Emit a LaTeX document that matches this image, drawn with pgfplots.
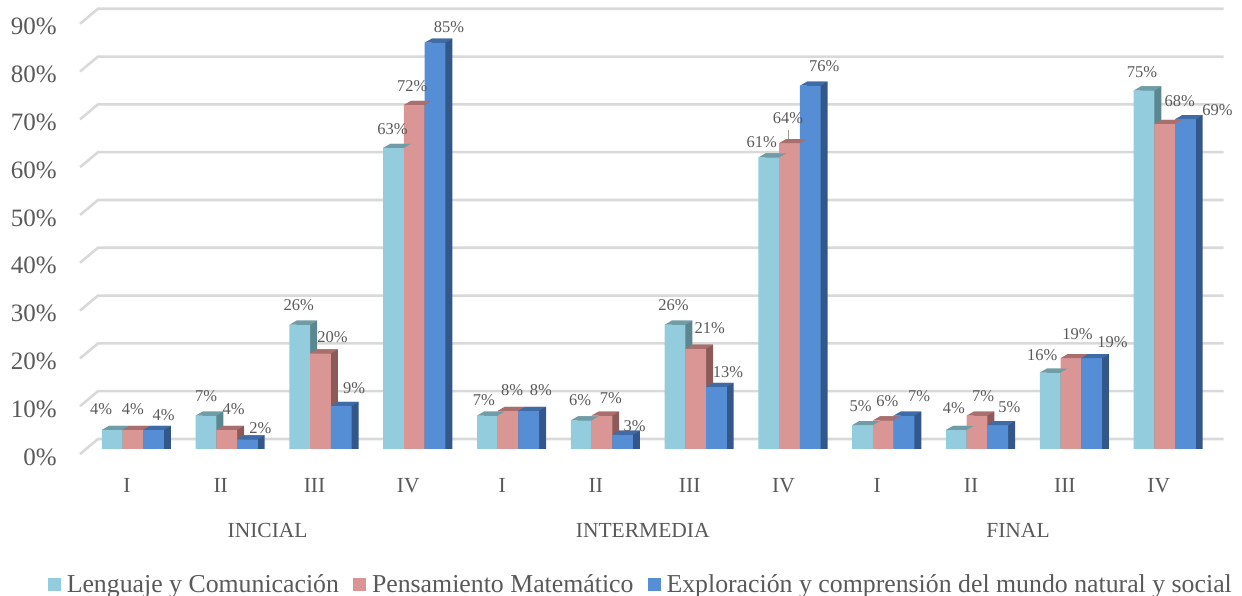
\documentclass[border=0pt]{standalone}
\usepackage{pgfplots}
\pgfplotsset{compat=1.18}
\usepackage{pgfplotstable}
\usepackage{fontspec}
\setmainfont{Liberation Serif}
\definecolor{txt}{HTML}{595959}
\definecolor{fa}{HTML}{93CDDD}\definecolor{ta}{HTML}{6F9CA6}\definecolor{sa}{HTML}{5B8790}
\definecolor{fb}{HTML}{D99694}\definecolor{tb}{HTML}{A86F6D}\definecolor{sb}{HTML}{8B5B59}
\definecolor{fc}{HTML}{558ED5}\definecolor{tc}{HTML}{3F6BA6}\definecolor{sc}{HTML}{33578A}
\definecolor{gridc}{HTML}{D9D9D9}

\pgfdeclareplotmark{top3d}{%
  \pgfpathmoveto{\pgfqpoint{-10.35pt}{0pt}}%
  \pgfpathlineto{\pgfqpoint{10.35pt}{0pt}}%
  \pgfpathlineto{\pgfqpoint{17.35pt}{4pt}}%
  \pgfpathlineto{\pgfqpoint{-3.35pt}{4pt}}%
  \pgfpathclose\pgfusepathqfill}

\pgfplotstableread{
x  a  b  c  dxa  dya  dxb  dyb  dxc  dyc
0  4  4  4  -11  15   0    15   10   9
1  7  4  2  0    14.5 7    15   13   6
2  26 20 9  -1   14   12   11   13   12
3  63 72 85 -1   13   -2   13   14   10
4  7  8  8  -3.5 10.5 4    15   12   15
5  6  7  3  -1   15   9    12.5 12   3
6  26 21 13 -1.5 14   14   15.5 11.5 9
7  61 64 76 -7   10   -1.5 20   14   14
8  5  6  7  -2   14   4    14   15   14.5
9  4  7  5  -2.5 16   6    14.5 11.5 13
10 16 19 19 -8   12.5 6.5  19   21   11
11 75 68 69 -2   12.5 15   17   32   4
}\data

\pgfplotsset{
  lbl/.style n args={3}{draw=none, mark=none, forget plot,
    point meta=explicit,
    nodes near coords={\pgfmathprintnumber{\pgfplotspointmeta}\%},
    visualization depends on={\thisrow{#2}\as\dx},
    visualization depends on={\thisrow{#3}\as\dy},
    nodes near coords style={anchor=base, inner sep=0pt, xshift=\dx pt, yshift=\dy pt,
      font=\fontsize{16.5}{18}\selectfont, text=txt}},
}

\begin{document}
\begin{tikzpicture}
\begin{axis}[
  width=1125.6pt, height=430.2pt, scale only axis,
  xmin=-0.5, xmax=11.5, ymin=0, ymax=90,
  clip=false,
  axis line style={draw=none}, major tick length=0pt,
  /pgf/number format/assume math mode=true,
  xtick={0,...,11},
  xticklabels={I,II,III,IV,I,II,III,IV,I,II,III,IV},
  xticklabel style={anchor=base, inner sep=0pt, yshift=-43pt, xshift=-6pt,
    font=\fontsize{21.5}{24}\selectfont, text=txt},
  ytick={0,10,...,90},
  yticklabel={\pgfmathprintnumber{\tick}\%},
  yticklabel style={anchor=east, inner sep=0pt, xshift=-29pt, yshift=-8pt,
    font=\fontsize{25}{30}\selectfont, text=txt},
  legend style={at={(0.5,0)}, anchor=center, yshift=-135pt, xshift=-9pt,
    draw=none, fill=none, inner sep=0pt,
    font=\fontsize{25.8}{30}\selectfont, text=txt,
    nodes={inner sep=0pt},
    /tikz/every odd column/.append style={column sep=6pt},
    /tikz/every even column/.append style={column sep=14pt}},
  legend columns=3,
  legend cell align=left,
]
% back wall grid lines with slanted floor edge
\pgfplotsinvokeforeach{0,10,20,30,40,50,60,70,80,90}{
  \draw[gridc, line width=2.6pt, line join=round]
    ([shift={(-6pt,-5pt)}]axis cs:-0.5,#1) --
    ([shift={(12pt,10pt)}]axis cs:-0.5,#1) --
    ([shift={(12pt,10pt)}]axis cs:11.5,#1);
}
\coordinate (O) at (rel axis cs:0,0);

% Series 1
\addplot[ybar, forget plot, bar width=0.2207, bar shift=-0.1461, fill=sa, draw=none]
  table[x=x, y expr=\thisrow{a}+0.837] {\data};
\addplot[ybar, bar width=0.2207, bar shift=-0.2207, fill=fa, draw=none,
  legend image code/.code={\fill[fa] (0pt,-6.5pt) rectangle (13pt,6.5pt);}]
  table[x=x, y=a] {\data};
\addlegendentry{Lenguaje y Comunicación}
\addplot[only marks, forget plot, mark=top3d, mark options={fill=ta, draw=none}]
  table[x expr=\thisrow{x}-0.2207, y=a] {\data};

% Series 2
\addplot[ybar, forget plot, bar width=0.2207, bar shift=0.0746, fill=sb, draw=none]
  table[x=x, y expr=\thisrow{b}+0.837] {\data};
\addplot[ybar, bar width=0.2207, bar shift=0, fill=fb, draw=none,
  legend image code/.code={\fill[fb] (0pt,-6.5pt) rectangle (13pt,6.5pt);}]
  table[x=x, y=b] {\data};
\addlegendentry{Pensamiento Matemático}
\addplot[only marks, forget plot, mark=top3d, mark options={fill=tb, draw=none}]
  table[x=x, y=b] {\data};

% Series 3
\addplot[ybar, forget plot, bar width=0.2207, bar shift=0.2953, fill=sc, draw=none]
  table[x=x, y expr=\thisrow{c}+0.837] {\data};
\addplot[ybar, bar width=0.2207, bar shift=0.2207, fill=fc, draw=none,
  legend image code/.code={\fill[fc] (0pt,-6.5pt) rectangle (13pt,6.5pt);}]
  table[x=x, y=c] {\data};
\addlegendentry{Exploración y comprensión del mundo natural y social}
\addplot[only marks, forget plot, mark=top3d, mark options={fill=tc, draw=none}]
  table[x expr=\thisrow{x}+0.2207, y=c] {\data};

% data labels
\addplot[lbl={a}{dxa}{dya}] table[x expr=\thisrow{x}-0.2207, y=a, meta=a] {\data};
\addplot[lbl={b}{dxb}{dyb}] table[x=x, y=b, meta=b] {\data};
\addplot[lbl={c}{dxc}{dyc}] table[x expr=\thisrow{x}+0.2207, y=c, meta=c] {\data};

% leader line for 64%
\draw[txt!60, line width=0.8pt] ([shift={(-1pt,1pt)}]axis cs:7,64) -- ++(0pt,12pt);

% group labels
\node[anchor=base, xshift=-6pt, yshift=-88pt, font=\fontsize{21.5}{24}\selectfont, text=txt] at (axis cs:1.5,0) {INICIAL};
\node[anchor=base, xshift=-6pt, yshift=-88pt, font=\fontsize{21.5}{24}\selectfont, text=txt] at (axis cs:5.5,0) {INTERMEDIA};
\node[anchor=base, xshift=-6pt, yshift=-88pt, font=\fontsize{21.5}{24}\selectfont, text=txt] at (axis cs:9.5,0) {FINAL};
\end{axis}
\pgfresetboundingbox
\path[use as bounding box] ([shift={(-86pt,-147pt)}]O) rectangle ([shift={(1156pt,449pt)}]O);
\end{tikzpicture}
\end{document}
